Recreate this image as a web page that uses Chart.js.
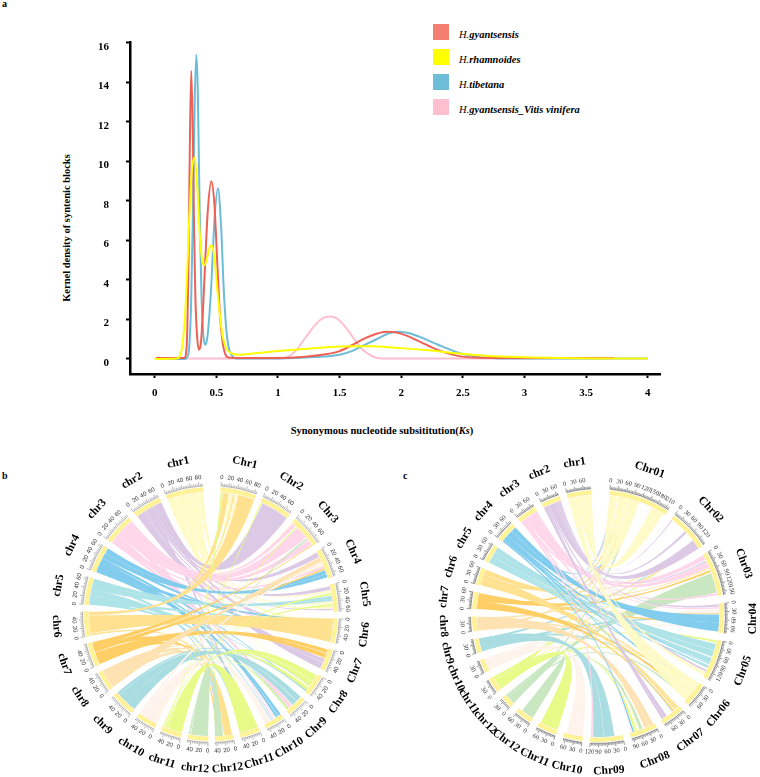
<!DOCTYPE html>
<html>
<head>
<meta charset="utf-8">
<title>Ks density and synteny</title>
<script src="https://cdn.jsdelivr.net/npm/chart.js@4/dist/chart.umd.min.js"></script>
<style>
html, body { margin: 0; padding: 0; background: #fff; }
body { width: 760px; height: 777px; position: relative; overflow: hidden; font-family: "Liberation Serif", serif; color: #000; }
canvas { position: absolute; }
.panel, .axis-title, .legend-text { position: absolute; font-weight: bold; white-space: nowrap; }
.panel { font-size: 10px; }
.axis-title { font-size: 10.5px; transform: translate(-50%, -50%); }
.legend-swatch { position: absolute; left: 433px; width: 16px; height: 16px; }
.legend-text { left: 459px; font-size: 10.5px; font-style: italic; transform: translateY(-50%); }
</style>
</head>
<body>
<div class="panel" style="left:2px;top:-2px">a</div>
<div class="panel" style="left:2px;top:470px">b</div>
<div class="panel" style="left:403px;top:470px">c</div>
<div id="legend"></div>
<div class="axis-title" style="left:382px;top:430px">Synonymous nucleotide subsititution(<i>Ks</i>)</div>
<div class="axis-title" style="left:66px;top:228px;transform:translate(-50%,-50%) rotate(-90deg)">Kernel density of syntenic blocks</div>
<canvas id="kde" width="760" height="445" style="left:0;top:0"></canvas>
<canvas id="circosB" width="326" height="326" style="left:48px;top:451px"></canvas>
<canvas id="circosC" width="326" height="322" style="left:435px;top:455px"></canvas>
<script>
// panel a
const yTicks = [0, 2, 4, 6, 8, 10, 12, 14, 16];
const xTicks = [0, 0.5, 1, 1.5, 2, 2.5, 3, 3.5, 4];
const seriesNames = ["H.gyantsensis", "H.rhamnoides", "H.tibetana", "H.gyantsensis_Vitis vinifera"];
const legendColors = ["#F47E70", "#FFFF00", "#6DBCD8", "#FFBFCF"];

const redX = [0.01, 0.24, 0.255, 0.265, 0.275, 0.285, 0.297, 0.31, 0.32, 0.33, 0.345, 0.36, 0.375, 0.39, 0.41, 0.43, 0.46, 0.485, 0.51, 0.53, 0.55, 0.57, 0.6, 0.7, 1.0, 1.2, 1.4, 1.5, 1.6, 1.7, 1.8, 1.88, 1.95, 2.05, 2.15, 2.3, 2.45, 2.6, 2.8, 3.73];
const redY = [0.05, 0.05, 0.3, 1.5, 5, 10.6, 14.6, 11.4, 6.5, 3.2, 1.1, 0.47, 0.8, 2.2, 4.9, 7.4, 9.0, 7.8, 4.6, 2.2, 0.9, 0.3, 0.07, 0.05, 0.05, 0.1, 0.25, 0.4, 0.7, 1.03, 1.28, 1.38, 1.35, 1.17, 0.88, 0.45, 0.17, 0.07, 0.05, 0.05];
const blueX = [0.01, 0.24, 0.265, 0.28, 0.295, 0.31, 0.325, 0.338, 0.35, 0.365, 0.38, 0.395, 0.41, 0.425, 0.44, 0.46, 0.485, 0.513, 0.54, 0.56, 0.58, 0.6, 0.63, 0.66, 1.0, 1.3, 1.5, 1.6, 1.7, 1.8, 1.9, 1.97, 2.05, 2.15, 2.3, 2.45, 2.6, 2.8, 4.0];
const blueY = [0, 0, 0.1, 0.6, 2.6, 7.2, 13, 15.4, 13.6, 7.6, 3.2, 1.2, 0.72, 1.0, 1.9, 3.8, 7, 8.65, 6.6, 3.6, 1.6, 0.6, 0.15, 0.03, 0.03, 0.1, 0.22, 0.4, 0.7, 1.0, 1.3, 1.38, 1.33, 1.12, 0.72, 0.35, 0.12, 0.03, 0.03];
const yellowX = [0, 0.18, 0.2, 0.22, 0.24, 0.26, 0.28, 0.3, 0.325, 0.345, 0.365, 0.385, 0.405, 0.425, 0.45, 0.465, 0.485, 0.51, 0.53, 0.55, 0.58, 0.62, 0.68, 0.8, 1.0, 1.2, 1.4, 1.6, 1.75, 2.0, 2.2, 2.4, 2.6, 2.8, 3.0, 3.3, 3.6, 4.0];
const yellowY = [0, 0.02, 0.1, 0.5, 1.6, 3.8, 7, 9.4, 10.2, 8.8, 6.4, 5, 4.75, 5.1, 5.7, 5.75, 5.1, 3.4, 2.2, 1.2, 0.55, 0.3, 0.22, 0.28, 0.4, 0.5, 0.6, 0.65, 0.65, 0.55, 0.45, 0.32, 0.2, 0.12, 0.09, 0.05, 0.03, 0.03];
const pinkX = [0.01, 1.0, 1.08, 1.15, 1.22, 1.3, 1.36, 1.42, 1.48, 1.55, 1.62, 1.7, 1.78, 1.85, 3.73];
const pinkY = [0.02, 0.02, 0.1, 0.45, 1.05, 1.7, 2.05, 2.15, 2.05, 1.6, 1.0, 0.4, 0.1, 0.02, 0.02];

// chord colours, one per query chromosome
const chrColors = {
    chr1: "#FFFBC8", chr2: "#DCC9E6", chr3: "#FFD6EA", chr4: "#82CDEE",
    chr5: "#AEE3E8", chr6: "#FFE18F", chr7: "#FFCF66", chr8: "#FFE2B2",
    chr9: "#A9DDE2", chr10: "#FFF3EB", chr11: "#E8FB88", chr12: "#C9E8C2"
};

// panel b
const bNames = ["Chr1", "Chr2", "Chr3", "Chr4", "Chr5", "Chr6", "Chr7", "Chr8", "Chr9", "Chr10", "Chr11", "Chr12", "chr12", "chr11", "chr10", "chr9", "chr8", "chr7", "chr6", "chr5", "chr4", "chr3", "chr2", "chr1"];
const bSizes = [85, 75, 76, 71, 66, 58, 52, 51, 48, 47, 47, 44, 48, 49, 48, 58, 48, 57, 59, 65, 65, 72, 69, 90];
const bGap = 17;
const bLastGap = 42;
const bLinks = [
    ["chr1", 0, 13, "Chr5", 53, 58], ["chr1", 13, 25, "Chr8", 33, 37], ["chr1", 25, 37, "Chr5", 41, 46], ["chr1", 37, 48, "Chr4", 36, 38],
    ["chr1", 48, 57, "Chr5", 13, 18], ["chr1", 57.6, 68, "Chr1", 36, 42], ["chr1", 68.6, 79, "Chr1", 21, 30], ["chr1", 79, 90, "Chr3", 0, 2],
    ["chr2", 1, 11, "Chr7", 26, 36], ["chr2", 11, 21, "Chr7", 37, 52], ["chr2", 21, 26, "Chr5", 59, 62], ["chr2", 26, 31, "Chr10", 22, 24],
    ["chr2", 31, 37, "Chr5", 3, 12], ["chr2", 37, 45, "Chr4", 2, 14], ["chr2", 45, 69, "Chr2", 5, 75],
    ["chr3", 0, 9, "Chr9", 30, 40], ["chr3", 9, 15, "Chr4", 38, 44], ["chr3", 15, 25, "Chr10", 16, 18],
    ["chr3", 25, 41, "Chr3", 58, 72], ["chr3", 41, 59, "Chr3", 18, 50], ["chr3", 59, 72, "Chr3", 2, 12],
    ["chr4", 0, 11, "Chr10", 0, 7], ["chr4", 11, 21, "Chr10", 8, 14], ["chr4", 21, 29, "Chr9", 41, 43],
    ["chr4", 29, 37, "Chr8", 47, 49], ["chr4", 37, 51, "Chr4", 50, 60], ["chr4", 51, 65, "Chr4", 60, 68],
    ["chr5", 0, 9, "Chr9", 44, 46], ["chr5", 9, 23, "Chr8", 43, 45], ["chr5", 23, 37, "Chr10", 26, 28],
    ["chr5", 37, 53, "Chr5", 27, 34], ["chr5", 53, 65, "Chr5", 34, 40],
    ["chr6", 0, 5, "Chr12", 2, 22], ["chr6", 6, 50, "Chr6", 0, 58], ["chr6", 50.5, 51.5, "Chr1", 31, 35],
    ["chr6", 51.5, 52, "Chr1", 6, 20], ["chr6", 52, 59, "Chr1", 44, 85],
    ["chr7", 0, 15, "Chr7", 2, 12], ["chr7", 15, 31, "Chr7", 13, 24], ["chr7", 32, 45, "Chr4", 45, 49], ["chr7", 45, 57, "Chr3", 73, 75],
    ["chr8", 0, 15, "Chr4", 16, 25], ["chr8", 15, 31, "Chr4", 26, 35], ["chr8", 31, 41, "Chr10", 40, 42], ["chr8", 41, 48, "Chr9", 36, 38],
    ["chr9", 0, 26, "Chr9", 0, 14], ["chr9", 26, 51, "Chr9", 15, 28], ["chr9", 51, 58, "Chr8", 46, 50],
    ["chr10", 0, 23, "Chr10", 30, 37], ["chr10", 23, 39, "Chr10", 38, 45], ["chr10", 39, 48, "Chr4", 28, 35],
    ["chr11", 0, 36, "Chr11", 0, 47], ["chr11", 37, 41, "Chr8", 2, 20], ["chr11", 41.5, 43, "Chr8", 21, 32], ["chr11", 43, 44, "Chr8", 38, 46],
    ["chr11", 44, 45, "Chr1", 0, 5], ["chr11", 45, 46, "Chr2", 0, 3], ["chr11", 46, 47, "Chr3", 14, 17],
    ["chr11", 47, 48, "Chr5", 20, 25], ["chr11", 48, 49, "Chr5", 47, 52], ["chr11", 36, 36.6, "Chr9", 42, 46],
    ["chr12", 0, 42, "Chr12", 24, 44], ["chr12", 43, 45, "Chr3", 52, 56], ["chr12", 45.5, 48, "Chr8", 31, 33],
    // smaller blocks crossing the middle
    ["chr1", 2, 14, "Chr6", 8, 16], ["chr1", 30, 44, "Chr11", 10, 16], ["chr1", 60, 72, "Chr12", 30, 36],
    ["chr2", 5, 16, "Chr6", 22, 30], ["chr2", 28, 38, "Chr11", 30, 36], ["chr2", 50, 60, "Chr6", 44, 50],
    ["chr3", 5, 18, "Chr6", 34, 42], ["chr3", 30, 44, "Chr11", 18, 24], ["chr3", 52, 62, "Chr12", 36, 40],
    ["chr4", 4, 16, "Chr6", 6, 12], ["chr4", 18, 30, "Chr11", 6, 12], ["chr4", 40, 50, "Chr6", 48, 54],
    ["chr5", 4, 16, "Chr6", 16, 22], ["chr5", 26, 38, "Chr11", 38, 44], ["chr5", 48, 58, "Chr12", 26, 30],
    ["chr7", 8, 22, "Chr11", 24, 30], ["chr7", 36, 50, "Chr12", 38, 42],
    ["chr8", 6, 20, "Chr11", 14, 20], ["chr8", 26, 42, "Chr12", 28, 32],
    ["chr9", 8, 22, "Chr11", 32, 38], ["chr9", 30, 46, "Chr12", 32, 36],
    ["chr10", 6, 20, "Chr11", 20, 26]
];

// panel c
const cNames = ["Chr01", "Chr02", "Chr03", "Chr04", "Chr05", "Chr06", "Chr07", "Chr08", "Chr09", "Chr10", "Chr11", "Chr12", "chr12", "chr11", "chr10", "chr9", "chr8", "chr7", "chr6", "chr5", "chr4", "chr3", "chr2", "chr1"];
const cSizes = [222, 149, 164, 107, 146, 85, 83, 98, 120, 69, 72, 62, 43, 53, 46, 50, 52, 61, 61, 65, 71, 72, 68, 88];
const cGap = 29;
const cLastGap = 67;
const cLinks = [
    ["chr1", 0, 7, "Chr06", 0, 26], ["chr1", 7, 19, "Chr06", 28, 80], ["chr1", 19, 25, "Chr05", 128, 140], ["chr1", 25, 31, "Chr08", 62, 66],
    ["chr1", 31, 51, "Chr01", 165, 215], ["chr1", 51, 65, "Chr01", 72, 115], ["chr1", 65, 77, "Chr01", 34, 70], ["chr1", 77, 88, "Chr01", 0, 30],
    ["chr2", 0, 9, "Chr07", 58, 70], ["chr2", 9, 15, "Chr07", 70, 80], ["chr2", 15, 22, "Chr05", 118, 125], ["chr2", 22, 46, "Chr02", 112, 149],
    ["chr2", 46, 54, "Chr02", 68, 76], ["chr2", 54, 60, "Chr02", 2, 6], ["chr2", 60, 64, "Chr03", 24, 30], ["chr2", 64, 68, "Chr04", 2, 10],
    ["chr3", 0, 9, "Chr09", 112, 118], ["chr3", 9, 19, "Chr08", 90, 92], ["chr3", 19, 41, "Chr03", 32, 52], ["chr3", 41, 61, "Chr03", 2, 20],
    ["chr3", 61, 67, "Chr03", 152, 160], ["chr3", 67, 72, "Chr04", 12, 18],
    ["chr4", 0, 7, "Chr08", 82, 88], ["chr4", 7, 17, "Chr07", 31, 33], ["chr4", 17, 29, "Chr05", 92, 95], ["chr4", 29, 51, "Chr04", 40, 70], ["chr4", 51, 71, "Chr04", 70, 104],
    ["chr5", 0, 13, "Chr05", 100, 110], ["chr5", 13, 26, "Chr05", 70, 90], ["chr5", 26, 46, "Chr05", 15, 40], ["chr5", 46, 65, "Chr05", 41, 65],
    ["chr6", 0, 21, "Chr07", 3, 10], ["chr6", 21, 41, "Chr07", 11, 20], ["chr6", 41, 61, "Chr03", 53, 56],
    ["chr7", 0, 31, "Chr07", 24, 30], ["chr7", 31, 51, "Chr03", 62, 70], ["chr7", 51, 61, "Chr04", 35, 38],
    ["chr8", 0, 27, "Chr08", 5, 22], ["chr8", 27, 52, "Chr08", 23, 40],
    ["chr9", 0, 26, "Chr09", 30, 70], ["chr9", 26, 50, "Chr09", 71, 110],
    ["chr10", 0, 21, "Chr10", 0, 30], ["chr10", 21, 37, "Chr10", 31, 60], ["chr10", 37, 46, "Chr04", 20, 34],
    ["chr11", 0, 40, "Chr11", 0, 68], ["chr11", 41, 45, "Chr05", 2, 10], ["chr11", 45, 53, "Chr08", 70, 80],
    ["chr12", 0, 30, "Chr12", 2, 50], ["chr12", 31, 40, "Chr03", 75, 150], ["chr12", 41, 43, "Chr08", 48, 60],
    // smaller blocks crossing the middle
    ["chr3", 6, 16, "Chr01", 10, 18], ["chr3", 30, 40, "Chr06", 6, 14], ["chr4", 10, 20, "Chr06", 36, 44], ["chr4", 30, 40, "Chr01", 92, 100],
    ["chr5", 4, 14, "Chr06", 10, 20], ["chr5", 30, 42, "Chr01", 8, 20], ["chr5", 50, 60, "Chr04", 60, 70],
    ["chr6", 5, 18, "Chr06", 40, 50], ["chr6", 25, 38, "Chr01", 40, 50], ["chr6", 45, 55, "Chr02", 120, 128],
    ["chr7", 6, 20, "Chr06", 60, 70], ["chr7", 30, 42, "Chr01", 80, 90], ["chr7", 48, 58, "Chr04", 74, 84],
    ["chr8", 6, 20, "Chr01", 90, 105], ["chr8", 26, 40, "Chr06", 30, 38], ["chr8", 42, 50, "Chr02", 132, 142],
    ["chr9", 4, 16, "Chr04", 50, 60], ["chr9", 22, 36, "Chr06", 50, 58], ["chr9", 38, 48, "Chr02", 116, 122],
    ["chr10", 4, 16, "Chr01", 50, 60], ["chr10", 22, 32, "Chr04", 90, 98],
    ["chr11", 5, 18, "Chr06", 16, 24], ["chr11", 24, 36, "Chr01", 60, 68], ["chr11", 42, 50, "Chr02", 126, 134],
    ["chr12", 4, 14, "Chr01", 100, 110], ["chr12", 20, 30, "Chr06", 70, 78]
];

// legend
const legendBox = document.getElementById("legend");
seriesNames.forEach(function (name, i) {
    const top = 24 + i * 25;
    const genus = name.slice(0, 2);
    const rest = name.slice(2);
    legendBox.innerHTML += `<div class="legend-swatch" style="top:${top}px;background:${legendColors[i]}"></div>`;
    legendBox.innerHTML += `<div class="legend-text" style="top:${top + 10}px"><span style="font-weight:normal">${genus}</span>${rest}</div>`;
});

function toPoints(xs, ys) {
    return xs.map(function (x, i) { return { x: x, y: ys[i] }; });
}

function curve(label, color, xs, ys) {
    return {
        label: label,
        data: toPoints(xs, ys),
        borderColor: color,
        borderWidth: 2,
        pointRadius: 0,
        cubicInterpolationMode: "monotone",
        fill: false
    };
}

const axisFont = { family: "Liberation Serif", size: 11, weight: "bold" };

new Chart(document.getElementById("kde"), {
    type: "line",
    data: {
        // first dataset is painted last
        datasets: [
            curve(seriesNames[1], "#FFFF00", yellowX, yellowY),
            curve(seriesNames[0], "#EE6155", redX, redY),
            curve(seriesNames[2], "#6DBCD8", blueX, blueY),
            curve(seriesNames[3], "#FFBFCF", pinkX, pinkY)
        ]
    },
    options: {
        responsive: false,
        animation: false,
        layout: { padding: { top: 42, right: 100, left: 0, bottom: 0 } },
        plugins: { legend: { display: false }, tooltip: { enabled: false } },
        scales: {
            x: {
                type: "linear",
                min: -0.2,
                max: 4.1,
                afterFit: function (s) { s.height = 71; },
                afterBuildTicks: function (s) { s.ticks = xTicks.map(function (v) { return { value: v }; }); },
                grid: { drawOnChartArea: false, tickLength: 4, tickWidth: 2, tickColor: "#000" },
                border: { color: "#000", width: 2.5 },
                ticks: {
                    color: "#000", font: axisFont, padding: 9, maxRotation: 0, autoSkip: false,
                    callback: function (v) { return String(v); }
                }
            },
            y: {
                min: -0.76,
                max: 16.05,
                afterFit: function (s) { s.width = 130; },
                afterBuildTicks: function (s) { s.ticks = yTicks.map(function (v) { return { value: v }; }); },
                grid: { drawOnChartArea: false, tickLength: 4, tickWidth: 2, tickColor: "#000" },
                border: { color: "#000", width: 2.5 },
                ticks: { color: "#000", font: axisFont, padding: 17, labelOffset: 4, autoSkip: false }
            }
        }
    }
});

// ring: doughnut with empty slices as gaps, ribbons and ticks are placed from its arcs
function circos(canvasId, names, sizes, gap, lastGap, links, rotation, opt) {
    const ringData = [];
    const ringFill = [];
    const ringBorder = [];
    sizes.forEach(function (size, i) {
        ringData.push(size, i == sizes.length - 1 ? lastGap : gap);
        ringFill.push("#FFF68F", "rgba(0,0,0,0)");
        ringBorder.push("#FFEFA0", "rgba(0,0,0,0)");
    });

    function arcOf(chart, name) {
        return chart.getDatasetMeta(0).data[names.indexOf(name) * 2];
    }

    function angleAt(chart, name, mb) {
        const arc = arcOf(chart, name);
        return arc.startAngle + mb / sizes[names.indexOf(name)] * (arc.endAngle - arc.startAngle);
    }

    // ribbon edge, both handles pulled most of the way to the centre
    function bend(ctx, cx, cy, r, from, to) {
        const pull = 0.25 * r;
        ctx.bezierCurveTo(cx + pull * Math.cos(from), cy + pull * Math.sin(from),
            cx + pull * Math.cos(to), cy + pull * Math.sin(to),
            cx + r * Math.cos(to), cy + r * Math.sin(to));
    }

    const circosPlugin = {
        id: "circos",
        beforeDatasetsDraw: function (chart) {
            const ctx = chart.ctx;
            const first = chart.getDatasetMeta(0).data[0];
            const r = first.innerRadius - 0.5;
            // painted by chromosome number, b has chr12 on top and c has chr1 on top
            const ordered = links.slice().sort(function (p, q) {
                const diff = parseInt(p[0].slice(3)) - parseInt(q[0].slice(3));
                return opt.reverseOrder ? -diff : diff;
            });
            ctx.save();
            ordered.forEach(function (l) {
                const a0 = angleAt(chart, l[0], l[1]);
                const a1 = angleAt(chart, l[0], l[2]);
                const b0 = angleAt(chart, l[3], l[4]);
                const b1 = angleAt(chart, l[3], l[5]);
                ctx.beginPath();
                ctx.moveTo(first.x + r * Math.cos(a0), first.y + r * Math.sin(a0));
                ctx.arc(first.x, first.y, r, a0, a1);
                bend(ctx, first.x, first.y, r, a1, b0);
                ctx.arc(first.x, first.y, r, b0, b1);
                bend(ctx, first.x, first.y, r, b1, a0);
                ctx.closePath();
                ctx.fillStyle = chrColors[l[0]];
                ctx.fill();
            });
            ctx.restore();
        },
        afterDatasetsDraw: function (chart) {
            const ctx = chart.ctx;
            const first = chart.getDatasetMeta(0).data[0];
            const cx = first.x, cy = first.y, R = first.outerRadius;
            ctx.save();
            ctx.textAlign = "center";
            ctx.textBaseline = "middle";
            names.forEach(function (name, i) {
                const arc = arcOf(chart, name);
                ctx.strokeStyle = opt.tickColor;
                ctx.lineWidth = 0.6;
                ctx.beginPath();
                ctx.arc(cx, cy, R + 1.5, arc.startAngle, arc.endAngle);
                ctx.stroke();
                for (let mb = 0; mb <= sizes[i]; mb += opt.minorStep) {
                    const a = angleAt(chart, name, mb);
                    const major = mb % opt.majorStep == 0;
                    const len = major ? 4 : 2.2;
                    ctx.beginPath();
                    ctx.moveTo(cx + (R + 1.5) * Math.cos(a), cy + (R + 1.5) * Math.sin(a));
                    ctx.lineTo(cx + (R + 1.5 + len) * Math.cos(a), cy + (R + 1.5 + len) * Math.sin(a));
                    ctx.stroke();
                    if (major) {
                        textAt(ctx, cx, cy, R + 10, a, String(mb), opt.tickFont, "#333");
                    }
                }
                const mid = (arc.startAngle + arc.endAngle) / 2;
                textAt(ctx, cx, cy, R + opt.nameGap, mid, name, "bold 11.5px 'Liberation Serif'", "#000");
            });
            ctx.restore();
        }
    };

    new Chart(document.getElementById(canvasId), {
        type: "doughnut",
        data: { labels: names.flatMap(function (n) { return [n, ""]; }), datasets: [{ data: ringData, backgroundColor: ringFill, borderColor: ringBorder, borderWidth: 1, borderAlign: "inner" }] },
        options: {
            responsive: false,
            animation: false,
            rotation: rotation,
            cutout: "96.5%",
            layout: { padding: opt.padding },
            plugins: { legend: { display: false }, tooltip: { enabled: false } }
        },
        plugins: [circosPlugin]
    });
}

function textAt(ctx, cx, cy, r, a, text, font, color) {
    ctx.save();
    ctx.translate(cx + r * Math.cos(a), cy + r * Math.sin(a));
    ctx.rotate(Math.sin(a) > 0 ? a - Math.PI / 2 : a + Math.PI / 2);
    ctx.font = font;
    ctx.fillStyle = color;
    ctx.fillText(text, 0, 0);
    ctx.restore();
}

circos("circosB", bNames, bSizes, bGap, bLastGap, bLinks, 4.5, {
    padding: 36, tickColor: "#888", majorStep: 20, minorStep: 4,
    tickFont: "6px 'Liberation Sans'", nameGap: 28, reverseOrder: false
});
circos("circosC", cNames, cSizes, cGap, cLastGap, cLinks, 5.4, {
    padding: { left: 37, right: 37, top: 35, bottom: 35 }, tickColor: "#555", majorStep: 30, minorStep: 5,
    tickFont: "6.5px 'Liberation Serif'", nameGap: 29, reverseOrder: true
});
</script>
</body>
</html>
